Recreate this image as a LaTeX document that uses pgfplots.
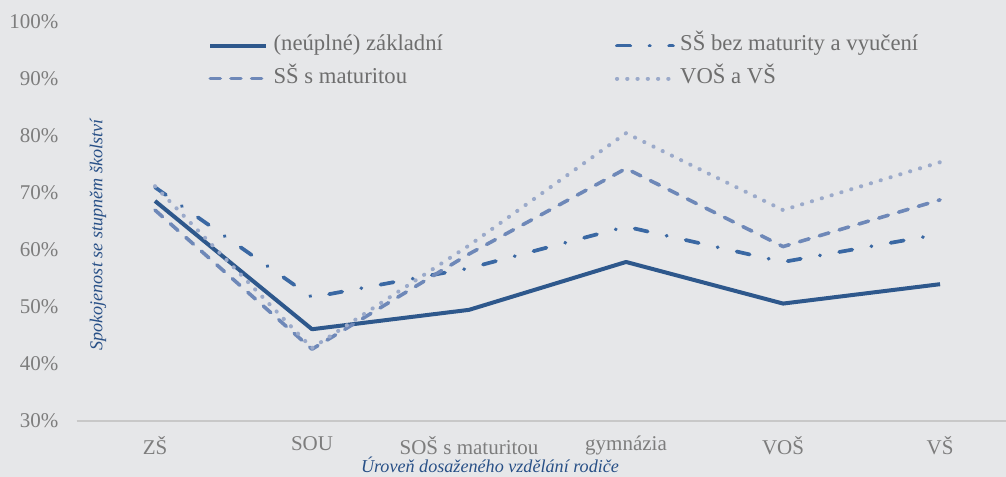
\documentclass[border=0pt]{standalone}
\usepackage{fontspec}
\usepackage{pgfplots}
\pgfplotsset{compat=1.18}
\setmainfont{Liberation Serif}
\definecolor{bg}{RGB}{230,231,233}
\definecolor{cA}{RGB}{46,88,140}
\definecolor{cB}{RGB}{58,104,163}
\definecolor{cC}{RGB}{110,136,184}
\definecolor{cD}{RGB}{155,170,202}
\definecolor{tickgray}{RGB}{125,125,125}
\definecolor{leggray}{RGB}{110,110,110}
\definecolor{axgray}{RGB}{200,200,200}
\definecolor{labblue}{RGB}{40,80,135}

\pgfplotstableread{
x solid dashdot dashed dotted
0 68.6 71.0 67.0 71.2
1 46.1 51.7 42.6 42.8
2 49.5 56.8 59.3 60.8
3 57.9 64.1 74.3 80.5
4 50.6 57.9 60.6 67.0
5 54.0 62.8 68.8 75.4
}\datatable

\begin{document}
\begin{tikzpicture}
\fill[bg] (0,0) rectangle (754.5pt,357.75pt);
\begin{axis}[
  at={(57.375pt,42pt)}, anchor=south west,
  scale only axis,
  width=697.125pt, height=299.25pt,
  xmin=-0.5, xmax=5.42, ymin=30, ymax=100,
  axis x line*=bottom,
  axis y line*=left,
  x axis line style={draw=axgray, line width=1pt, -},
  y axis line style={draw=none},
  xtick={0,...,5},
  xticklabels={ZŠ,SOU,SOŠ s maturitou,gymnázia,VOŠ,VŠ},
  ytick={30,40,...,100},
  yticklabel={\pgfmathprintnumber{\tick}\%},
  /pgf/number format/assume math mode=true,
  major tick length=0pt,
  tick style={draw=none},
  yticklabel style={font=\fontsize{15.75}{18}\selectfont, text=tickgray, anchor=east, xshift=-10pt},
  xticklabel style={font=\fontsize{15.75}{18}\selectfont, text=tickgray, anchor=north, yshift=-8pt},
  legend columns=2,
  legend cell align=left,
  legend image code/.code={\draw[#1] (0pt,0pt) -- (42pt,0pt);},
  legend style={at={(0.1415,0.975)}, anchor=north west, draw=none, fill=none,
     font=\fontsize{17}{20}\selectfont, text=leggray,
     nodes={text height=12pt, text depth=4pt, inner sep=2pt},
     /tikz/every even column/.append style={column sep=127pt},
     /tikz/every odd column/.append style={column sep=2pt},
     row sep=4.75pt, inner sep=0pt},
  clip=false,
]
\addplot[cA, line width=3pt, line join=round] table[x=x,y=solid]{\datatable};
\addlegendentry{(neúplné) základní}
\addplot[cB, line width=2.8pt, line cap=round, line join=round, dash pattern=on 10pt off 14.5pt on 0.2pt off 14.5pt] table[x=x,y=dashdot]{\datatable};
\addlegendentry{SŠ bez maturity a vyučení}
\addplot[cC, line width=2.7pt, line cap=round, line join=round, dash pattern=on 7.5pt off 8pt] table[x=x,y=dashed]{\datatable};
\addlegendentry{SŠ s maturitou}
\addplot[cD, line width=3pt, line cap=round, dash pattern=on 0.2pt off 7.5pt] table[x=x,y=dotted]{\datatable};
\addlegendentry{VOŠ a VŠ}
\end{axis}
\node[rotate=90, font=\itshape\fontsize{13.6}{16}\selectfont, text=labblue] at (73.5pt,181.5pt) {Spokojenost se stupněm školství};
\node[anchor=base, inner sep=0pt, font=\itshape\fontsize{13.6}{16}\selectfont, text=labblue] at (367.5pt,3pt) {Úroveň dosaženého vzdělání rodiče};
\pgfresetboundingbox
\path[use as bounding box] (0,0) rectangle (754.5pt,357.75pt);
\end{tikzpicture}
\end{document}
